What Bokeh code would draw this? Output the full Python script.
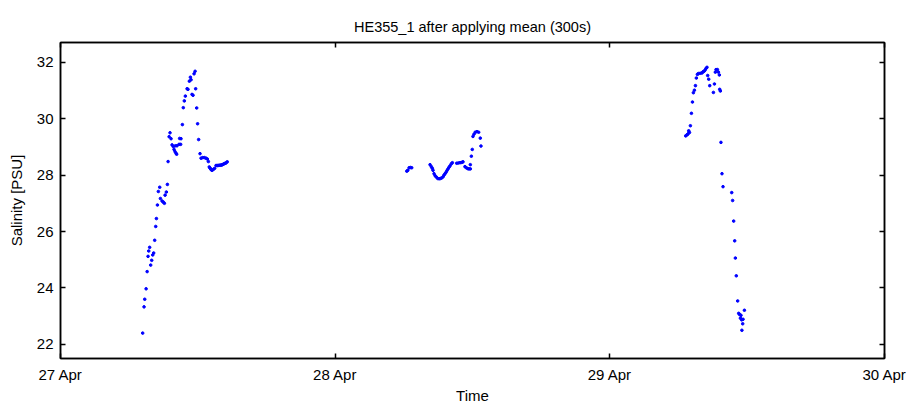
import pandas as pd
from bokeh.plotting import figure
from bokeh.models import (LinearAxis, DatetimeAxis, FixedTicker, DatetimeTickFormatter, Range1d,
                          ColumnDataSource, CustomJSTickFormatter)
from bokeh.embed import file_html
from bokeh.resources import INLINE

# ---- data (hours after midnight of each day, salinity in PSU) ----
seg1_day = "2011-04-27"
seg1_hours = [7.18, 7.30, 7.36, 7.48, 7.57, 7.65, 7.71, 7.79, 7.88, 7.97, 8.06, 8.14, 8.23, 8.32,
              8.38, 8.47, 8.55, 8.67, 8.73, 8.88, 8.99, 9.08, 9.14, 9.25, 9.34, 9.40, 9.49, 9.57,
              9.66, 9.75, 9.86, 9.92, 10.01, 10.04, 10.10, 10.15, 10.18, 10.36, 10.41, 10.50, 10.53,
              10.65, 10.73, 10.82, 10.91, 11.06, 11.14, 11.26, 11.35, 11.41, 11.49, 11.58, 11.67,
              11.76, 11.81, 11.90, 11.98, 12.07, 12.19, 12.28, 12.42, 12.57, 12.72, 12.83, 12.92,
              13.00, 13.06, 13.12, 13.18, 13.24, 13.35, 13.47, 13.59, 13.68, 13.76, 13.86, 13.96,
              14.04, 14.11, 14.20, 14.29, 14.38, 14.46, 14.57]
seg1_sal = [22.40, 23.33, 23.60, 23.97, 24.58, 25.12, 25.31, 25.44, 24.81, 24.98, 25.17, 25.24, 25.69, 26.18,
            26.46, 26.94, 27.42, 27.57, 27.17, 27.08, 27.04, 27.00, 27.29, 27.40, 27.67, 28.48, 29.36, 29.50,
            29.29, 29.07, 29.01, 28.91, 28.83, 29.04, 28.77, 28.74, 29.04, 29.09, 29.30, 29.09, 29.29,
            29.79, 30.39, 30.63, 30.80, 31.06, 31.04, 31.33, 31.47, 31.38, 30.86, 30.83, 31.59,
            31.68, 31.06, 30.38, 29.82, 29.26, 28.76, 28.60, 28.62, 28.62, 28.60, 28.57, 28.48,
            28.29, 28.25, 28.22, 28.19, 28.17, 28.20, 28.24, 28.34, 28.34, 28.34, 28.35, 28.35,
            28.36, 28.36, 28.38, 28.40, 28.42, 28.43, 28.47]

seg2_day = "2011-04-28"
seg2_hours = [6.26, 6.35, 6.46, 6.57, 6.69, 8.29, 8.40, 8.49, 8.55, 8.64, 8.73, 8.84, 8.96, 9.08,
              9.20, 9.31, 9.43, 9.51, 9.60, 9.69, 9.77, 9.86, 9.95, 10.04, 10.15, 10.24, 10.62,
              10.76, 10.91, 11.06, 11.17, 11.34, 11.46, 11.58, 11.69, 11.81, 11.81, 11.90, 11.98,
              12.04, 12.13, 12.24, 12.39, 12.54, 12.68, 12.74]
seg2_sal = [28.14, 28.17, 28.26, 28.27, 28.26, 28.37, 28.30, 28.24, 28.17, 28.05, 27.98, 27.93, 27.88, 27.87,
            27.88, 27.90, 27.94, 28.00, 28.05, 28.10, 28.16, 28.22, 28.28, 28.33, 28.40, 28.44, 28.42,
            28.43, 28.44, 28.45, 28.47, 28.30, 28.26, 28.23, 28.22, 28.22, 28.37, 28.67, 28.91,
            29.37, 29.45, 29.52, 29.54, 29.52, 29.31, 29.03]

seg3_day = "2011-04-29"
seg3_hours = [6.63, 6.75, 6.83, 6.89, 6.96, 7.04, 7.13, 7.22, 7.30, 7.39, 7.48, 7.56, 7.65, 7.74,
              7.90, 8.05, 8.14, 8.23, 8.32, 8.40, 8.49, 8.55, 8.64, 8.73, 9.05, 9.14, 9.22, 9.28,
              9.40, 9.49, 9.57, 9.60, 9.66, 9.71, 9.80, 9.89, 10.65, 10.73, 10.82, 10.91, 10.97,
              11.05, 11.17, 11.26, 11.34, 11.41, 11.46, 11.52, 11.54, 11.61, 11.64, 11.76]
seg3_sal = [29.39, 29.43, 29.46, 29.57, 29.51, 29.75, 30.19, 30.59, 30.92, 31.01, 31.17, 31.44, 31.57, 31.60,
            31.61, 31.62, 31.66, 31.68, 31.72, 31.78, 31.82, 31.53, 31.40, 31.17, 30.93, 31.23, 31.65, 31.74,
            31.74, 31.65, 31.55, 31.04, 30.98, 29.16, 28.05, 27.59, 27.38, 27.10, 26.37, 25.67, 25.06,
            24.43, 23.54, 23.10, 23.06, 22.93, 23.03, 22.87, 22.50, 22.73, 22.89, 23.21]

tick_days = ["2011-04-27", "2011-04-28", "2011-04-29", "2011-04-30"]
y_ticks = [22, 24, 26, 28, 30, 32]

# ---- build source ----
times, sal = [], []
for day, hrs, vals in [(seg1_day, seg1_hours, seg1_sal), (seg2_day, seg2_hours, seg2_sal), (seg3_day, seg3_hours, seg3_sal)]:
    base = pd.Timestamp(day)
    times += [base + pd.Timedelta(hours=h) for h in hrs]
    sal += vals
src = ColumnDataSource(dict(t=times, s=sal))

tick_ms = [pd.Timestamp(d).value // 10**6 for d in tick_days]
FONT = "Liberation Sans"
FS = "15px"

p = figure(width=910, height=406, x_axis_type="datetime", output_backend="svg", toolbar_location=None,
           x_range=Range1d(pd.Timestamp(tick_days[0]), pd.Timestamp(tick_days[-1])),
           y_range=Range1d(21.5, 32.7),
           title="HE355_1 after applying mean (300s)",
           min_border_left=60, min_border_right=26, min_border_top=42, min_border_bottom=46)
p.title.align = "center"
p.title.text_font = FONT
p.title.text_font_size = "14.5px"
p.title.text_font_style = "normal"
p.title.text_color = "black"
p.title.standoff = 15

p.scatter("t", "s", source=src, size=2.6, color="blue", marker="circle")

p.xgrid.visible = False
p.ygrid.visible = False
p.outline_line_color = "black"
p.outline_line_width = 1.5
p.background_fill_color = "white"
p.border_fill_color = "white"

xt = FixedTicker(ticks=tick_ms)
yt = FixedTicker(ticks=y_ticks)
fmt = DatetimeTickFormatter(days="%d %b", months="%d %b", hours="%d %b")
blank = CustomJSTickFormatter(code="return ''")

def style(ax, labels=True):
    ax.major_tick_in = 5
    ax.major_tick_out = 0
    ax.minor_tick_line_color = None
    ax.axis_line_color = "black"
    ax.axis_line_width = 1.5
    ax.major_tick_line_color = "black"
    ax.major_tick_line_width = 1.5
    ax.major_label_text_font = FONT
    ax.major_label_text_font_size = FS
    ax.major_label_text_color = "black"
    ax.major_label_standoff = 7 if labels else 0
    ax.axis_label_text_font = FONT
    ax.axis_label_text_font_size = FS
    ax.axis_label_text_font_style = "normal"
    ax.axis_label_text_color = "black"

xa = p.xaxis[0]
xa.ticker = xt
xa.formatter = fmt
xa.axis_label = "Time"
style(xa)
xa.axis_label_standoff = 1

ya = p.yaxis[0]
ya.ticker = yt
ya.axis_label = "Salinity [PSU]"
style(ya)
ya.axis_label_standoff = 9

top = DatetimeAxis(ticker=xt, formatter=blank)
style(top, labels=False)
p.add_layout(top, "above")
right = LinearAxis(ticker=yt, formatter=blank)
style(right, labels=False)
p.add_layout(right, "right")

open("out.html", "w").write(file_html(p, INLINE))
